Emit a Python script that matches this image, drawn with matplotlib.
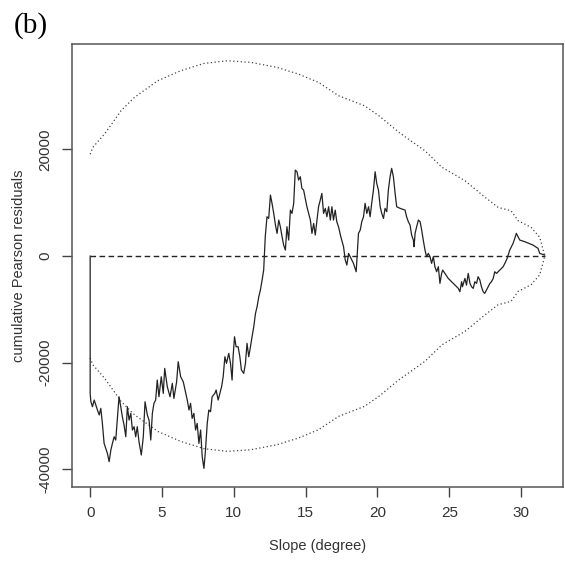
"""
Cumulative Pearson residuals against slope, with the simulated envelope.
"""
import matplotlib.pyplot as plt
import numpy as np

# cumulative residual walk
slope = [0, 0, 0.05, 0.16, 0.28, 0.51, 0.63, 0.74, 0.85, 0.97, 1.20, 1.32, 1.44, 1.55,
         1.67, 1.78, 1.90, 2.01, 2.13, 2.24, 2.36, 2.48, 2.59, 2.71, 2.83, 2.94, 3.06,
         3.17, 3.28, 3.40, 3.56, 3.70, 3.82, 3.98, 4.10, 4.22, 4.33, 4.44, 4.56, 4.67,
         4.79, 4.95, 5.09, 5.19, 5.37, 5.56, 5.72, 5.83, 6.02, 6.13, 6.30, 6.48, 6.76,
         6.88, 6.99, 7.10, 7.22, 7.34, 7.45, 7.57, 7.69, 7.80, 7.92, 8.03, 8.15, 8.26,
         8.38, 8.49, 8.68, 8.77, 8.91, 9.03, 9.15, 9.26, 9.38, 9.49, 9.65, 9.77, 9.88,
         9.95, 10.05, 10.16, 10.30, 10.42, 10.53, 10.69, 10.81, 10.92, 11.04, 11.16,
         11.27, 11.39, 11.51, 11.62, 11.74, 11.85, 11.97, 12.08, 12.15, 12.19, 12.31,
         12.43, 12.55, 12.66, 12.78, 12.90, 13.01, 13.13, 13.24, 13.36, 13.47, 13.59,
         13.70, 13.82, 13.94, 14.05, 14.17, 14.28, 14.40, 14.51, 14.63, 14.74, 14.86,
         15.09, 15.33, 15.44, 15.56, 15.67, 15.79, 15.90, 16.02, 16.13, 16.25, 16.37,
         16.48, 16.60, 16.72, 16.83, 16.94, 17.06, 17.17, 17.29, 17.45, 17.64, 17.76,
         17.87, 17.99, 18.10, 18.22, 18.33, 18.52, 18.68, 18.80, 18.91, 19.03, 19.14,
         19.26, 19.38, 19.49, 19.60, 19.72, 19.84, 19.95, 20.07, 20.19, 20.30, 20.42,
         20.53, 20.65, 20.76, 20.88, 20.99, 21.11, 21.23, 21.34, 21.58, 21.92, 22.03,
         22.15, 22.27, 22.38, 22.50, 22.55, 22.62, 22.73, 22.85, 22.97, 23.08, 23.19,
         23.31, 23.42, 23.54, 23.66, 23.77, 23.89, 24.00, 24.12, 24.24, 24.35, 24.47,
         24.54, 24.70, 24.93, 25.16, 25.40, 25.63, 25.74, 25.86, 25.92, 26.09, 26.20,
         26.32, 26.44, 26.55, 26.67, 26.78, 26.90, 27.01, 27.13, 27.24, 27.36, 27.47,
         27.59, 27.71, 27.83, 27.94, 28.06, 28.17, 28.29, 28.52, 28.75, 28.87, 29.03,
         29.21, 29.44, 29.56, 29.67, 29.91, 30.26, 30.83, 31.18, 31.30, 31.64]
cum_resid = [0, -25750, -27300, -28250, -27000, -28900, -29800, -28560, -31370, -35120,
             -37000, -38560, -36370, -35120, -33880, -34500, -30130, -26380, -28250,
             -30130, -31690, -33880, -28250, -30750, -29500, -32620, -32000, -33880,
             -32000, -34820, -37310, -33880, -27310, -29810, -30750, -34500, -29500,
             -27620, -27000, -23250, -26380, -22630, -25750, -21060, -24500, -26380,
             -23870, -26690, -23560, -19810, -22630, -23560, -27000, -28870, -27620,
             -30440, -29500, -32620, -31370, -35120, -32620, -37630, -39810, -36370,
             -31370, -28870, -29190, -26380, -25750, -25120, -27000, -25750, -24500,
             -22630, -18880, -20120, -18250, -20120, -23250, -18880, -15130, -17000,
             -17000, -18880, -21370, -22000, -20120, -16370, -18880, -17000, -15130,
             -13250, -10750, -9500, -7620, -6380, -4500, -2620, 1120, 3620, 7370, 7060,
             11440, 9880, 8000, 5810, 4250, 6750, 5500, 3620, 2060, 1120, 5500, 3000,
             8620, 8000, 9880, 16120, 15810, 14250, 14880, 12690, 12370, 9250, 6750,
             4250, 6120, 3940, 6750, 9250, 10500, 11750, 8000, 8940, 7370, 9250, 6750,
             9250, 6750, 8620, 6440, 5500, 3620, 1750, -750, -1690, 500, -120, -750,
             -1370, -2940, 4250, 4870, 6440, 7370, 9880, 8000, 9250, 7370, 9880, 12370,
             15810, 13630, 12370, 9250, 8000, 7060, 8940, 8310, 12370, 14880, 16440,
             14880, 11750, 9250, 8940, 8620, 7370, 6440, 5810, 3940, 3000, 1750, 4250,
             5500, 6750, 6440, 4870, 3000, 1120, -120, 500, -120, -1370, -120, -2000,
             -2940, -2000, -5120, -3250, -2620, -3250, -4190, -4810, -5440, -6060,
             -6690, -4810, -5750, -4190, -5440, -3250, -5120, -5750, -6060, -4810,
             -5120, -3870, -4500, -5750, -6690, -7000, -6380, -5750, -5120, -4810,
             -4190, -2940, -3250, -2620, -2000, -1370, -440, 1120, 2370, 3310, 4250,
             3000, 2690, 2060, 1440, 500, 190]

# envelope (symmetric about zero)
band_slope = [0, 0.19, 1.0, 1.58, 2.15, 3.08, 4.7, 6.3, 7.94, 9.56, 11.18, 13.0, 14.5,
              15.9, 17.3, 19.1, 20.1, 21.5, 23.3, 24.5, 26.1, 27.5, 28.4, 29.3, 29.8,
              30.7, 31.3, 31.65]
band_upper = [19100, 20400, 22900, 25070, 27250, 29750, 32870, 34750, 36130, 36620,
              36320, 35380, 34125, 32560, 30060, 28180, 26310, 23190, 19750, 16630,
              14120, 11000, 9130, 8500, 6620, 5380, 3500, 0]


def main():
    plt.rcParams['font.family'] = ['Liberation Sans', 'DejaVu Sans']
    fig = plt.figure(figsize=(5.65, 5.65), dpi=100)
    ax = fig.add_axes([0.1274, 0.138, 0.869, 0.784])

    band_lower = [-v for v in band_upper]
    ax.plot(band_slope, band_upper, color='#444444', linestyle=(0, (1, 2)), linewidth=0.9)
    ax.plot(band_slope, band_lower, color='#444444', linestyle=(0, (1, 2)), linewidth=0.9)
    ax.plot([0, max(slope)], [0, 0], color='#222222', linestyle=(0, (4, 2.5)), linewidth=1.0)
    ax.plot(slope, cum_resid, color='#222222', linewidth=0.9)

    xmin, xmax = 0, 31.65
    ymin, ymax = -40234, 36674
    xr, yr = xmax - xmin, ymax - ymin
    ax.set_xlim(xmin - 0.04 * xr, xmax + 0.04 * xr)
    ax.set_ylim(ymin - 0.04 * yr, ymax + 0.04 * yr)

    ax.set_xticks([0, 5, 10, 15, 20, 25, 30])
    ax.set_yticks([-40000, -20000, 0, 20000])
    ax.set_yticklabels(['-40000', '-20000', '0', '20000'], rotation=90, va='center')
    ax.tick_params(direction='out', length=7, width=1, color='#444444',
                   labelsize=11, pad=7, labelcolor='#333333')
    for sp in ax.spines.values():
        sp.set_color('#555555')
        sp.set_linewidth(1.1)

    ax.set_xlabel('Slope (degree)', fontsize=10.5, color='#333333', labelpad=13)
    ax.set_ylabel('cumulative Pearson residuals', fontsize=10.5, color='#333333', labelpad=9)

    fig.text(0.024, 0.978, '(b)', fontsize=21, family='Liberation Serif', va='top', ha='left')

    plt.savefig('out.png', dpi=100, facecolor='w')


if __name__ == "__main__":
    main()
